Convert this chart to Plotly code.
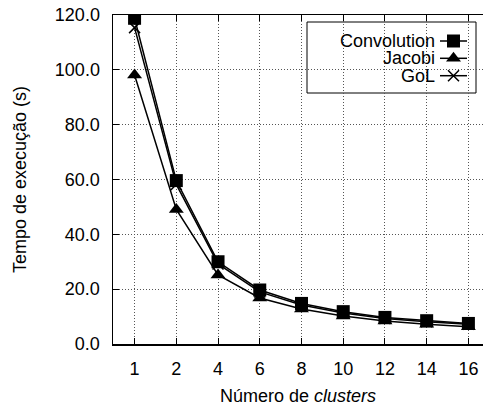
import plotly.graph_objects as go

clusters = ["1", "2", "4", "6", "8", "10", "12", "14", "16"]
convolution = [118.8, 59.6, 30.0, 19.7, 14.8, 11.8, 9.7, 8.5, 7.5]
jacobi = [98.1, 49.1, 25.2, 16.8, 12.8, 10.2, 8.4, 7.2, 6.3]
gol = [115.4, 58.2, 29.2, 19.0, 14.2, 11.3, 9.3, 8.1, 7.2]
series_names = ["Convolution", "Jacobi", "GoL"]
yticks = [0, 20, 40, 60, 80, 100, 120]

FONT = "Liberation Sans, Arial, Helvetica, sans-serif"
FS = 18

fig = go.Figure()

styles = [
    dict(symbol="square", size=13, line=dict(width=0)),
    dict(symbol="triangle-up", size=13, line=dict(width=0)),
    dict(symbol="x-thin", size=11, line=dict(width=1.5, color="black")),
]
for name, vals, st in zip(series_names, [convolution, jacobi, gol], styles):
    fig.add_trace(go.Scatter(
        x=clusters, y=vals, name=name, mode="lines+markers",
        line=dict(color="black", width=1.5),
        marker=dict(color="black", **st),
        showlegend=False,
    ))

# invisible trace to render the mirrored top axis
fig.add_trace(go.Scatter(x=clusters, y=convolution, xaxis="x2", yaxis="y",
                         mode="markers", marker=dict(opacity=0), showlegend=False,
                         hoverinfo="skip"))

# legend samples on a helper axis (window-pixel-like units)
leg_rows = [41, 58.3, 75.7]
for name, st, yy in zip(series_names, styles, leg_rows):
    fig.add_trace(go.Scatter(
        x=[440, 467], y=[yy, yy], xaxis="x3", yaxis="y3", mode="lines",
        line=dict(color="black", width=1.5), showlegend=False, hoverinfo="skip"))
    fig.add_trace(go.Scatter(
        x=[453.5], y=[yy], xaxis="x3", yaxis="y3", mode="markers",
        marker=dict(color="black", **st), showlegend=False, hoverinfo="skip"))
    fig.add_annotation(x=437, y=yy, xref="x3", yref="y3", text=name,
                       showarrow=False, xanchor="right", yanchor="middle",
                       font=dict(family=FONT, size=FS, color="black"))

fig.add_shape(type="rect", xref="x3", yref="y3", x0=307, x1=476, y0=22, y1=93,
              line=dict(color="black", width=1), fillcolor="white", layer="below")

axis_common = dict(
    ticks="inside", ticklen=6, tickcolor="black", tickwidth=1,
    showline=True, linecolor="black", linewidth=1.5,
    tickfont=dict(family=FONT, size=FS, color="black"),
    zeroline=False, automargin=False,
)

grid = dict(showgrid=True, gridcolor="#555555", griddash="1px,2px", gridwidth=1)

fig.update_layout(
    width=483, height=406,
    margin=dict(l=113, r=0, t=15, b=62, autoexpand=False),
    paper_bgcolor="white", plot_bgcolor="rgba(0,0,0,0)",
    font=dict(family=FONT, size=FS, color="black"),
    hovermode=False,
    xaxis=dict(
        type="category", range=[-0.517, 8.35],
        ticklabelstandoff=8,
        title=dict(text="Número de <i>clusters</i>", font=dict(family=FONT, size=FS), standoff=13),
        **grid, **axis_common,
    ),
    xaxis2=dict(
        type="category", overlaying="x", matches="x", side="top",
        showticklabels=False, showgrid=False, **axis_common,
    ),
    yaxis=dict(
        range=[0, 120], tickvals=yticks, ticktext=[f"{v:.1f}" for v in yticks],
        ticklabelstandoff=8,
        title=dict(text="Tempo de execução (s)", font=dict(family=FONT, size=FS), standoff=23),
        **grid, **axis_common,
    ),
    xaxis3=dict(domain=[0, 1], range=[113, 483], visible=False, fixedrange=True,
                overlaying="x", anchor="y3"),
    yaxis3=dict(domain=[0, 1], range=[344, 15], visible=False, fixedrange=True,
                anchor="x3", overlaying="y"),
    showlegend=False,
)

fig.write_html(
    "out.html",
    config={"displayModeBar": False, "staticPlot": True},
    post_script="document.body.style.margin='0';document.body.style.overflow='hidden';",
)
